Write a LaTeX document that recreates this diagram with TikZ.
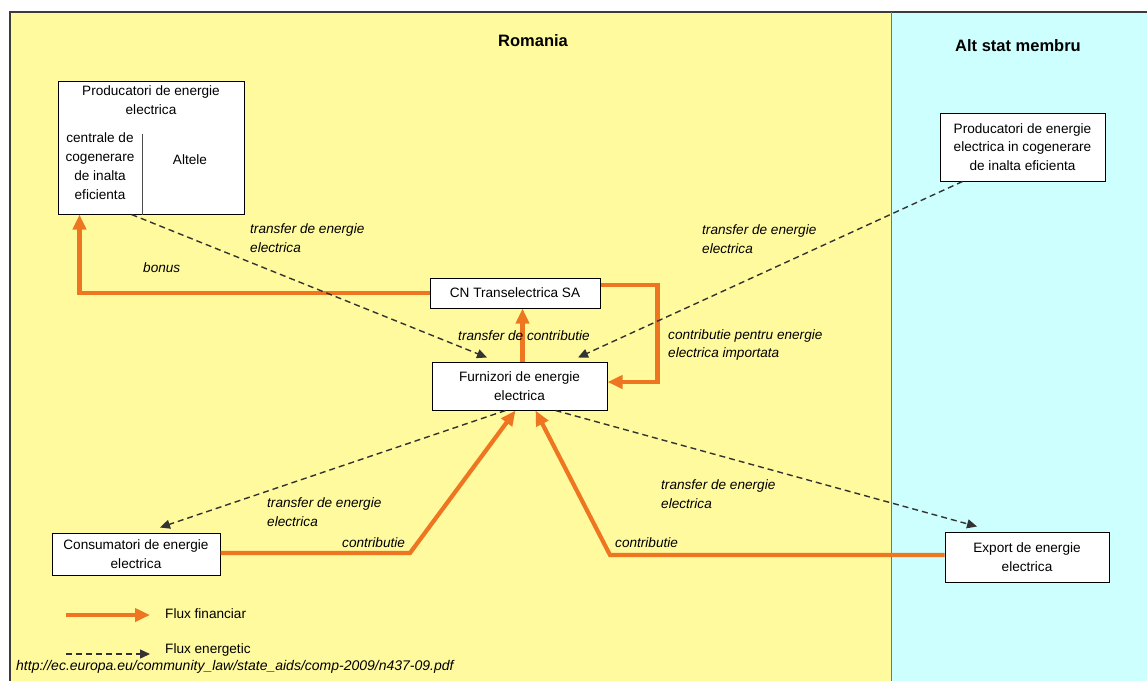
\documentclass[tikz,border=0pt]{standalone}
\usepackage{fontspec}
\setmainfont{Liberation Sans}
\usetikzlibrary{arrows.meta,calc}
\definecolor{bgyellow}{RGB}{255,250,158}
\definecolor{bgcyan}{RGB}{206,255,255}
\definecolor{flux}{RGB}{238,118,33}
\definecolor{frame}{RGB}{60,60,60}
\tikzset{
  box/.style={draw=black, fill=white, line width=1pt, align=center, inner sep=0pt,
    font=\fontsize{13.6}{18.5}\selectfont},
  lbl/.style={align=left, inner sep=0pt, font=\fontsize{13.6}{18.5}\selectfont\itshape},
  txt/.style={align=center, inner sep=0pt, font=\fontsize{13.6}{19}\selectfont},
  title/.style={inner sep=0pt, font=\fontsize{16.5}{19}\selectfont\bfseries},
  money/.style={draw=flux, line width=4.2pt, line join=miter,
    -{Triangle[length=15pt,width=13pt]}},
  energy/.style={draw=black!80, line width=1.4pt, dash pattern=on 6pt off 4pt,
    -{Triangle[length=10pt,width=9pt]}},
}
\begin{document}
\begin{tikzpicture}[x=1pt,y=-1pt]
\useasboundingbox (0,0) rectangle (1147,681);
% backgrounds
\fill[white] (0,0) rectangle (1147,681);
\fill[bgyellow] (10,12) rectangle (891,681);
\fill[bgcyan] (891,12) rectangle (1147,681);
\draw[frame, line width=1.3pt] (10,681) -- (10,12) -- (1147,12);
\draw[black!55, line width=1pt] (891,12) -- (891,681);
% titles
\node[title] (tro) at (533,41) {Romania};
\node[title] (tas) at (1018,46) {Alt stat membru};
% boxes
\node[box, minimum width=186pt, minimum height=133pt] (prod) at (151,147.5) {};
\node[txt] (prodt) at (151,100) {Producatori de energie\\electrica};
\node[txt] (prodl) at (100,166) {centrale de\\cogenerare\\de inalta\\eficienta};
\node[txt] (proda) at (190,160) {Altele};
\draw[black!70, line width=0.9pt] ([xshift=85pt,yshift=81pt]prod.south west) -- ([xshift=85pt]prod.south west);
\node[box, minimum width=165pt, minimum height=68pt] (rt) at (1022.5,147) {Producatori de energie\\electrica in cogenerare\\de inalta eficienta};
\node[box, minimum width=170pt, minimum height=30pt] (cn) at (515,293) {CN Transelectrica SA};
\node[box, minimum width=175pt, minimum height=48pt] (furn) at (519.5,386) {Furnizori de energie\\electrica};
\node[box, minimum width=168pt, minimum height=42pt] (cons) at (136,554) {Consumatori de energie\\electrica};
\node[box, minimum width=164pt, minimum height=50pt] (exp) at (1027,557) {Export de energie\\electrica};
% financial flows
\draw[money] (cn.west) -| ([xshift=22pt]prod.south west);
\draw[money] ([yshift=8pt]cn.east) -- ++(57,0) |- ([yshift=4pt]furn.east);
\draw[money] ([xshift=3pt]furn.north) -- ([xshift=3pt]furn.north |- cn.south);
\draw[money] (cons.east |- 0,553) -- (410,553) -- ([xshift=-4pt]furn.south);
\draw[money] (exp.west |- 0,555) -- (610,555) -- ([xshift=16pt]furn.south);
% energy flows
\draw[energy] ([xshift=74pt]prod.south west) -- ([xshift=-32.5pt,yshift=4pt]furn.north);
\draw[energy] ([xshift=23pt]rt.south west) -- ([xshift=58.5pt,yshift=4pt]furn.north);
\draw[energy] ([xshift=-14pt]furn.south) -- ([xshift=24pt,yshift=5pt]cons.north);
\draw[energy] ([xshift=36pt]furn.south) -- ([xshift=-50pt,yshift=5pt]exp.north);
% labels
\node[lbl, anchor=west] (l1) at (250,238) {transfer de energie\\electrica};
\node[lbl, anchor=west] (lb) at (143,268) {bonus};
\node[lbl, anchor=west] (l2) at (702,239) {transfer de energie\\electrica};
\node[lbl] (ltc) at (524,336) {transfer de contributie};
\node[lbl, anchor=west] (lcp) at (668,345) {contributie pentru energie\\electrica importata};
\node[lbl, anchor=west] (l3) at (267,512) {transfer de energie\\electrica};
\node[lbl, anchor=west] (lc1) at (342,543) {contributie};
\node[lbl, anchor=west] (l4) at (661,494) {transfer de energie\\electrica};
\node[lbl, anchor=west] (lc2) at (615,543) {contributie};
% legend
\coordinate (lfa) at (66,615);
\coordinate (lfb) at (150,615);
\coordinate (lea) at (66,654);
\coordinate (leb) at (150,654);
\draw[money] (lfa) -- (lfb);
\draw[energy] (lea) -- (leb);
\node[txt, anchor=west] (lf) at (165,614) {Flux financiar};
\node[txt, anchor=west] (le) at (165,650) {Flux energetic};
\node[lbl, anchor=west, font=\fontsize{14}{16}\selectfont\itshape] (url) at (16,667) {http://ec.europa.eu/community\_law/state\_aids/comp-2009/n437-09.pdf};
\end{tikzpicture}
\end{document}
